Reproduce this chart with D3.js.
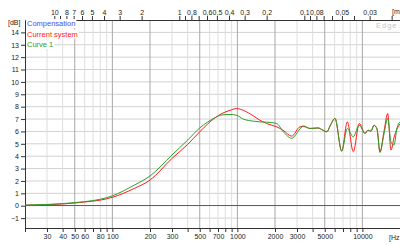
<!DOCTYPE html>
<html>
<head>
<meta charset="utf-8">
<script src="https://cdn.jsdelivr.net/npm/d3@7"></script>
<style>
  body { margin: 0; background: #fff; }
  text { font-family: "Liberation Sans", Arial, sans-serif; font-size: 7px; }
</style>
</head>
<body>
<div id="chart"></div>
<script>
// Frequency points (Hz) shared by both measured curves
const freqs = [20, 30, 40, 50, 60, 80, 100, 150, 200, 300, 400, 500, 662, 753, 873, 988, 1116, 1341, 1517, 1716,
               2063, 2318, 2720, 3170, 3368, 3811, 4416, 4842, 5212, 5508, 6040, 6834, 7576, 8460, 9450,
               10496, 11092, 11722, 12388, 13092, 13836, 14894, 15946, 16944, 17908, 18924, 20000];

// dB values
const currentSystem = [0.04, 0.08, 0.14, 0.22, 0.3, 0.45, 0.68, 1.4, 2.07, 3.82, 4.95, 5.97, 7.1, 7.45, 7.7, 7.85, 7.7, 7.26, 6.9, 6.64,
                       6.37, 6.1, 5.62, 6.37, 6.4, 6.24, 6.28, 6.1, 5.97, 6.43, 7.05, 4.41, 6.77, 4.36, 6.64,
                       5.84, 6.1, 6.02, 6.5, 6.2, 4.36, 6.0, 7.45, 4.49, 5.5, 6.2, 6.6];
const curve1 = [0.05, 0.1, 0.17, 0.25, 0.33, 0.52, 0.8, 1.67, 2.4, 4.1, 5.3, 6.28, 7.1, 7.33, 7.37, 7.3, 7.0, 6.83, 6.77, 6.75,
                6.64, 6.0, 5.45, 6.2, 6.45, 6.24, 6.28, 6.1, 5.97, 6.43, 7.05, 4.41, 6.24, 5.56, 6.5,
                5.84, 6.1, 6.02, 6.5, 6.2, 4.3, 5.8, 7.05, 5.14, 4.9, 6.27, 6.77];
const compensationFreqs = [20, 20000];
const compensation = [0, 0];

// Axis ticks
const freqTicks = [20, 30, 40, 50, 60, 70, 80, 90, 100, 200, 300, 400, 500, 600, 700, 800, 900,
                   1000, 2000, 3000, 4000, 5000, 6000, 7000, 8000, 9000, 10000];
const freqLabels = [30, 40, 50, 60, 80, 100, 200, 300, 500, 700, 1000, 2000, 3000, 5000, 10000];
const freqMajor = [50, 100, 200, 500, 1000, 2000, 5000, 10000];
const waveTicks = [10, 9, 8, 7, 6, 5, 4, 3, 2, 1, 0.9, 0.8, 0.7, 0.6, 0.5, 0.4, 0.3, 0.2,
                   0.1, 0.09, 0.08, 0.07, 0.06, 0.05, 0.04, 0.03, 0.02];
const waveLabels = [10, 8, 7, 6, 5, 4, 3, 2, 1, 0.8, 0.6, 0.5, 0.4, 0.3, 0.2, 0.1, 0.08, 0.05, 0.03];
const dbTicks = [-1, 0, 1, 2, 3, 4, 5, 6, 7, 8, 9, 10, 11, 12, 13, 14];
const legendNames = ["Compensation", "Current system", "Curve 1"];
const legendColors = ["#4a4aff", "#ff1a1a", "#2aa02a"];
const soundSpeed = 343;

const W = 400, H = 245;
const plot = { left: 25, right: 400, top: 20, bottom: 228 };

const svg = d3.select("#chart").append("svg")
    .attr("width", W).attr("height", H);

const x = d3.scaleLog().domain([20, 20000]).range([plot.left, plot.right]);
const xw = d3.scaleLog().domain([soundSpeed / 20, soundSpeed / 20000]).range([plot.left, plot.right]);
const y = d3.scaleLinear().domain([-1.8, 15]).range([plot.bottom, plot.top]);

// grid
svg.append("g").selectAll("line").data(dbTicks).join("line")
    .attr("x1", plot.left).attr("x2", plot.right)
    .attr("y1", d => y(d)).attr("y2", d => y(d))
    .attr("stroke", "#d2d2d2").attr("stroke-width", 1);

svg.append("g").selectAll("line").data(freqTicks.filter(d => d > 20)).join("line")
    .attr("x1", d => x(d)).attr("x2", d => x(d))
    .attr("y1", plot.top).attr("y2", plot.bottom)
    .attr("stroke", d => freqMajor.includes(d) ? "#a8a8a8" : "#dedede")
    .attr("stroke-width", 1);

// axes
const fmtComma = d => String(d).replace(".", ",");

svg.append("g")
    .attr("transform", `translate(0,${plot.bottom})`)
    .call(d3.axisBottom(x).tickValues(freqTicks)
        .tickFormat(d => freqLabels.includes(d) ? d : "")
        .tickSize(4).tickSizeOuter(0).tickPadding(2));

svg.append("g")
    .attr("transform", `translate(0,${plot.top})`)
    .call(d3.axisTop(xw).tickValues(waveTicks)
        .tickFormat(d => waveLabels.includes(d) ? fmtComma(d) : "")
        .tickSize(4).tickSizeOuter(0).tickPadding(1));

svg.append("g")
    .attr("transform", `translate(${plot.left},0)`)
    .call(d3.axisLeft(y).tickValues(dbTicks)
        .tickSize(4).tickSizeOuter(0).tickPadding(2));

svg.selectAll(".domain").attr("stroke", "#333");
svg.selectAll(".tick line").attr("stroke", "#333");
svg.selectAll(".tick text").style("font-size", "7px").style("font-family", "'Liberation Sans', Arial, sans-serif").style("fill", "#222");

// unit labels
svg.append("text").attr("x", 8).attr("y", 25).style("fill", "#222").text("[dB]");
svg.append("text").attr("x", 389).attr("y", 240).style("fill", "#222").text("[Hz");
svg.append("text").attr("x", 392).attr("y", 14).style("fill", "#222").text("[m");
svg.append("text").attr("x", 376).attr("y", 28).text("Edge")
    .style("font-size", "7.5px").style("letter-spacing", "1px").style("fill", "#c4c4c4");

// curves
const line = d3.line()
    .x(d => x(d[0]))
    .y(d => y(d[1]))
    .curve(d3.curveMonotoneX);

svg.append("path")
    .datum(compensationFreqs.map((f, i) => [f, compensation[i]]))
    .attr("d", line).attr("fill", "none")
    .attr("shape-rendering", "crispEdges")
    .attr("stroke", legendColors[0]).attr("stroke-width", 1);

svg.append("path")
    .datum(freqs.map((f, i) => [f, currentSystem[i]]))
    .attr("d", line).attr("fill", "none")
    .attr("stroke", legendColors[1]).attr("stroke-width", 1);

svg.append("path")
    .datum(freqs.map((f, i) => [f, curve1[i]]))
    .attr("d", line).attr("fill", "none")
    .attr("stroke", legendColors[2]).attr("stroke-width", 1);

// legend with white boxes behind the text
const legend = svg.append("g");
legendNames.forEach((name, i) => {
    const g = legend.append("g");
    const t = g.append("text")
        .attr("x", 27).attr("y", 26 + i * 10.5)
        .style("fill", legendColors[i])
        .style("font-size", "7.5px")
        .text(name);
    const b = t.node().getBBox();
    g.insert("rect", "text")
        .attr("x", b.x - 1).attr("y", b.y)
        .attr("width", b.width + 2).attr("height", b.height)
        .attr("fill", "#fff");
});
</script>
</body>
</html>
